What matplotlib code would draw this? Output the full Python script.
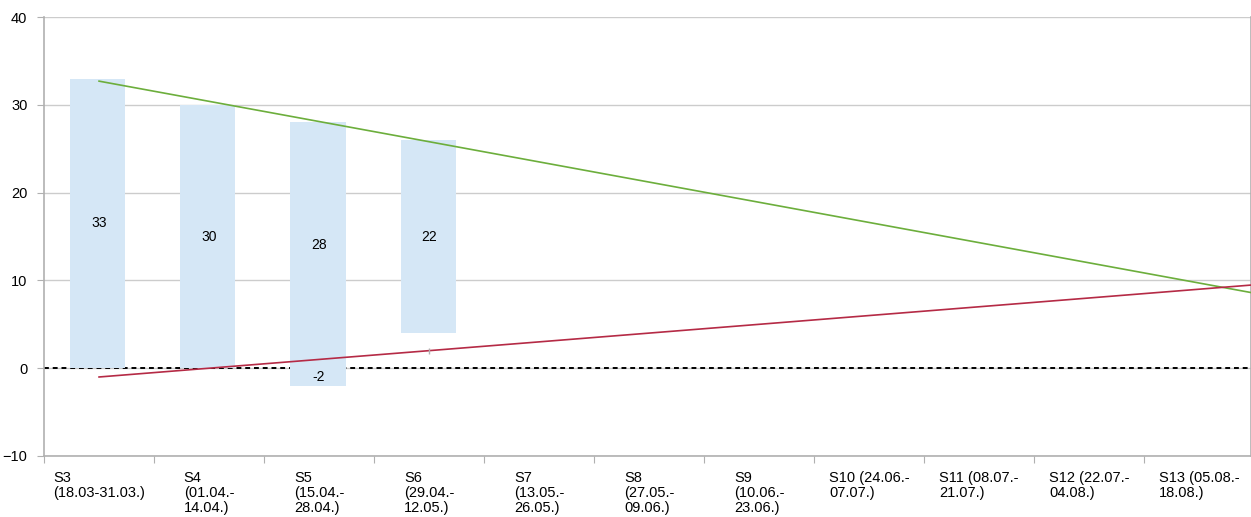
import numpy as np
import matplotlib.pyplot as plt

plt.rcParams['font.family'] = ['Liberation Sans', 'DejaVu Sans']
plt.rcParams['font.size'] = 10.5

sprints = ["S3\n(18.03-31.03.)", "S4\n(01.04.-\n14.04.)", "S5\n(15.04.-\n28.04.)",
           "S6\n(29.04.-\n12.05.)", "S7\n(13.05.-\n26.05.)", "S8\n(27.05.-\n09.06.)",
           "S9\n(10.06.-\n23.06.)", "S10 (24.06.-\n07.07.)", "S11 (08.07.-\n21.07.)",
           "S12 (22.07.-\n04.08.)", "S13 (05.08.-\n18.08.)"]
# recorded sprints: bar bottom (scope added/removed) and remaining work
bar_bottom = [0, 0, -2, 4]
bar_top = [33, 30, 28, 26]
bar_labels = ["33", "30", "28", "22"]
neg_labels = [None, None, "-2", None]

bar_color = '#d5e7f6'
n = len(sprints)
xr = np.arange(len(bar_top))
x_end = n - 0.53

fig = plt.figure(figsize=(12.51, 5.17), dpi=100)
ax = fig.add_axes([0.0352, 0.118, 1.0 - 0.0352, 0.849])

# bars (positive part and negative part)
for i in xr:
    lo = max(bar_bottom[i], 0)
    ax.bar(i - 0.01, bar_top[i] - lo, bottom=lo, width=0.5, color=bar_color, zorder=3)
    ax.text(i, (lo + bar_top[i]) / 2, bar_labels[i], ha='center', va='center', fontsize=10, zorder=5)
    if bar_bottom[i] < 0:
        ax.bar(i - 0.01, bar_bottom[i], width=0.5, color=bar_color, zorder=3)
        ax.text(i, bar_bottom[i] / 2, neg_labels[i], ha='center', va='center', fontsize=10, zorder=5)

# zero line
ax.axhline(0, color='black', linestyle=(0, (2.5, 2)), linewidth=1.4, zorder=2)

# trend lines
xs = np.array([0, x_end])
k_top, b_top = np.polyfit(xr, bar_top, 1)
k_bot, b_bot = np.polyfit(xr, bar_bottom, 1)
ax.plot(xs, k_top * xs + b_top, color='#6cae3c', linewidth=1.2, zorder=4)
ax.plot(xs, k_bot * xs + b_bot, color='#b52a45', linewidth=1.2, zorder=4)
ax.plot(3, k_bot * 3 + b_bot, marker='|', color='#b0b0b0', markersize=5, zorder=5)

ax.set_xlim(-0.5, x_end)
ax.set_ylim(-10, 40)
ax.set_yticks(range(-10, 41, 10))
ax.yaxis.grid(True, color='#cccccc', linewidth=1.0)
ax.set_axisbelow(True)

ax.set_xticks(np.arange(n) - 0.5)
ax.set_xticklabels([])
ax.set_xticks(np.arange(n), minor=True)
ax.set_xticklabels(sprints, minor=True, ha='center', multialignment='left', linespacing=1.1)
ax.tick_params(axis='x', which='minor', length=0, pad=11)
ax.tick_params(axis='x', which='major', length=5, color='#b0b0b0')
ax.tick_params(axis='y', length=5, color='#b0b0b0', pad=7)

for s in ['left', 'bottom', 'right']:
    ax.spines[s].set_color('#b0b0b0')
    ax.spines[s].set_linewidth(1.2)
ax.spines['top'].set_visible(False)

plt.savefig('out.png', dpi=100)
